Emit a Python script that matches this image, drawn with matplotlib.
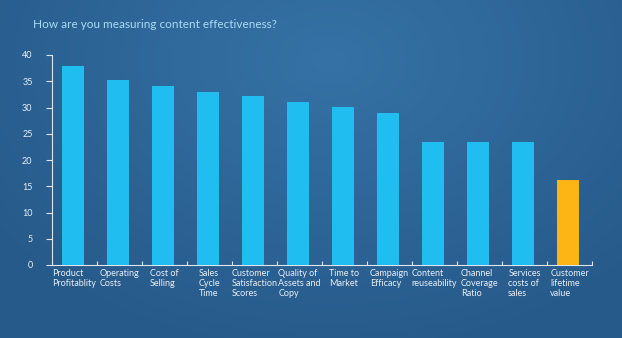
import numpy as np
import matplotlib
matplotlib.use("Agg")
import matplotlib.pyplot as plt

title = "How are you measuring content effectiveness?"
categories = ["Product\nProfitablity", "Operating\nCosts", "Cost of\nSelling",
              "Sales\nCycle\nTime", "Customer\nSatisfaction\nScores",
              "Quality of\nAssets and\nCopy", "Time to\nMarket", "Campaign\nEfficacy",
              "Content\nreuseability", "Channel\nCoverage\nRatio",
              "Services\ncosts of\nsales", "Customer\nlifetime\nvalue"]
values = [37.9, 35.2, 34.1, 32.9, 32.2, 31.0, 30.1, 29.0, 23.4, 23.4, 23.4, 16.2]
highlight = [False] * 11 + [True]
yticks = [0, 5, 10, 15, 20, 25, 30, 35, 40]

plt.rcParams['font.family'] = ['Lato', 'DejaVu Sans']

W, H = 622, 338
fig = plt.figure(figsize=(W / 100, H / 100), dpi=100)

# background gradient
bg = fig.add_axes([0, 0, 1, 1])
yy, xx = np.mgrid[0:H, 0:W]
d = np.sqrt(((xx - 330) / 420) ** 2 + ((yy - 60) / 300) ** 2)
d = np.clip(d, 0, 1)
c0 = np.array([0x36, 0x72, 0xa6]) / 255
c1 = np.array([0x26, 0x5a, 0x8a]) / 255
img = c0[None, None, :] * (1 - d[..., None]) + c1[None, None, :] * d[..., None]
bg.imshow(img, aspect='auto', extent=[0, 1, 0, 1], origin='upper')
bg.set_axis_off()

ax = fig.add_axes([52 / W, 1 - 265 / H, (592 - 52) / W, 210 / H])
ax.patch.set_alpha(0)
n = len(categories)
x = np.arange(n)
colors = ['#fdb515' if h else '#1fbdf0' for h in highlight]
ax.bar(x - 0.03, values, width=0.49, color=colors, zorder=3)
ax.set_xlim(-0.5, n - 0.5)
ax.set_ylim(0, 40)
ax.set_yticks(yticks)
ax.set_yticklabels([str(v) for v in yticks], fontsize=6.5, color='#e8eef5')
ax.set_xticks(np.arange(n + 1) - 0.5)
ax.set_xticklabels([])
ax.set_xticks(x, minor=True)
ax.set_xticklabels(categories, minor=True, fontsize=6.5, color='#e8eef5',
                   va='top', ha='center', multialignment='left', linespacing=1.15)
ax.tick_params(axis='x', which='minor', length=0, pad=3)
ax.tick_params(axis='x', which='major', length=3, direction='in', color='#dde6ef', width=0.8)
ax.tick_params(axis='y', length=4, color='#dde6ef', width=0.8, pad=10)
for s in ['top', 'right']:
    ax.spines[s].set_visible(False)
for s in ['left', 'bottom']:
    ax.spines[s].set_color('#dde6ef')
    ax.spines[s].set_linewidth(0.8)

fig.text(33 / W, 1 - 24 / H, title, fontsize=8.5, color='#a8dcf5', va='center', ha='left')

fig.savefig("out.png", dpi=100)
